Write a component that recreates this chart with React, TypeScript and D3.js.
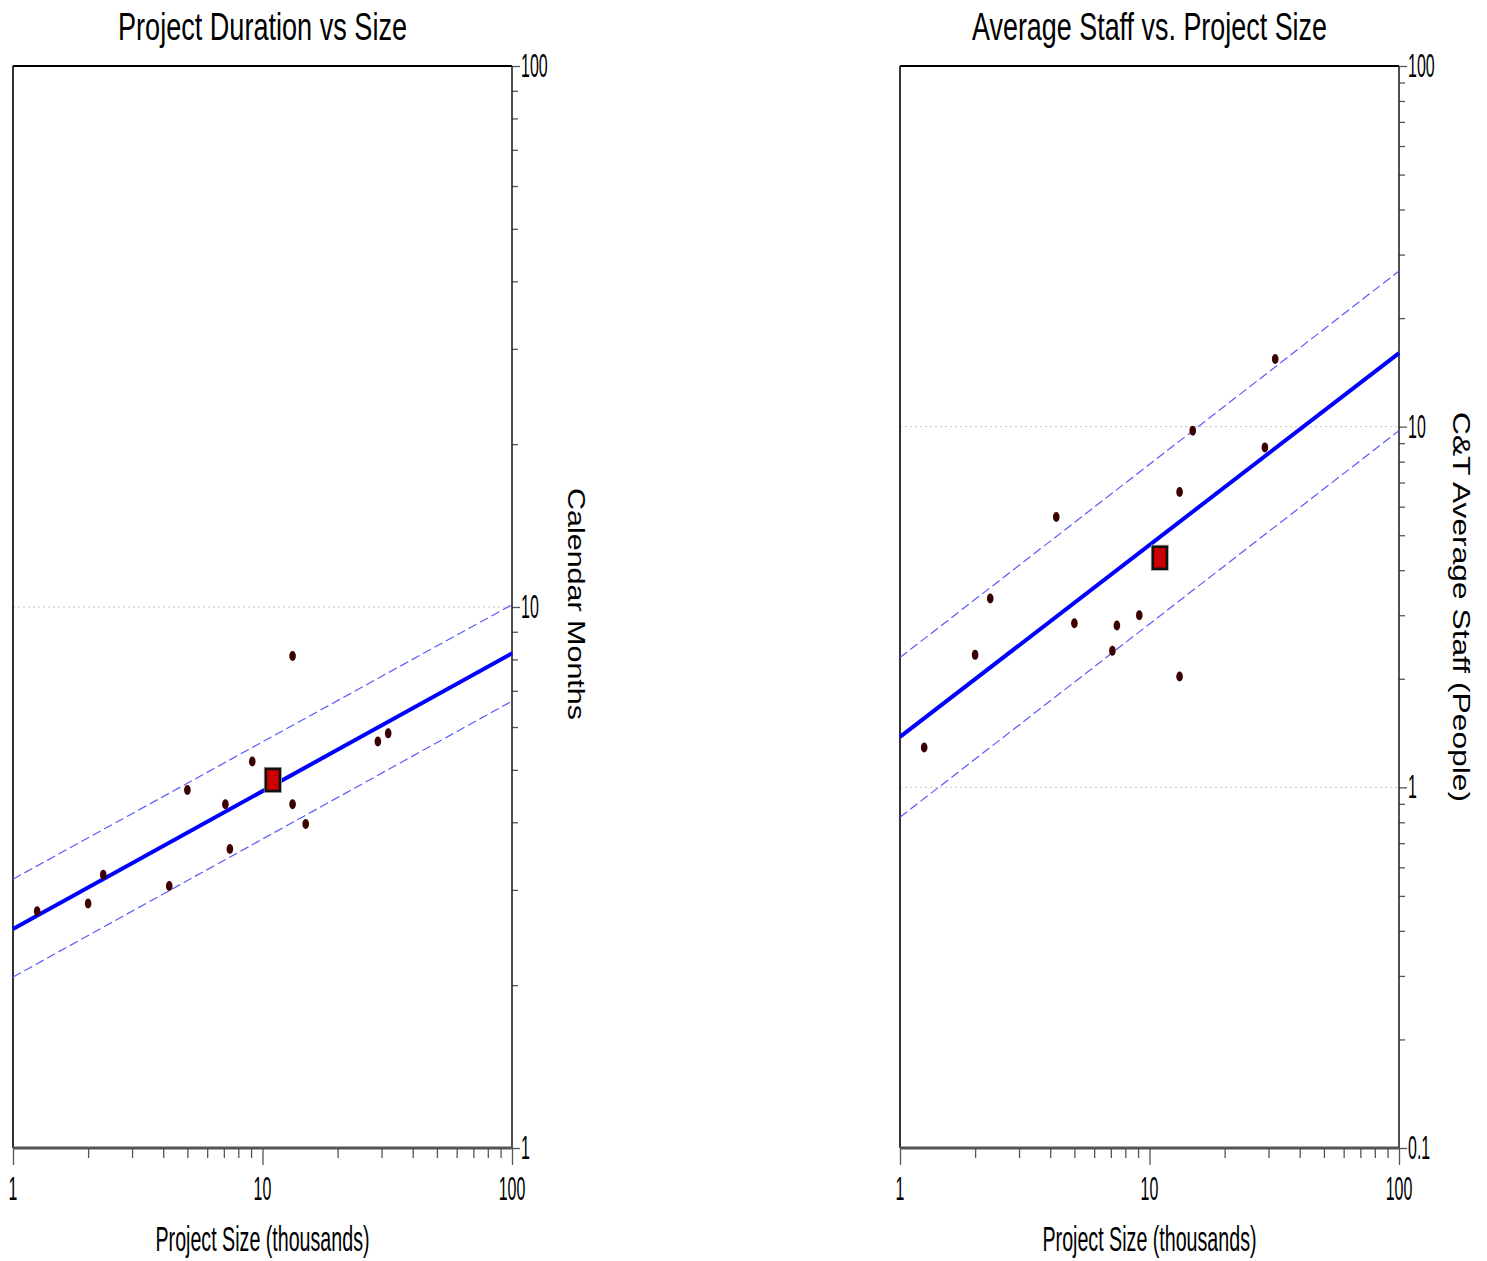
import React, { useEffect, useRef } from "react";
import * as d3 from "d3";

// project sizes (thousands) shared by both panels
const projectSize = [1.25, 2.0, 2.3, 4.23, 5.0, 7.1, 7.4, 9.1, 13.2, 13.2, 14.9, 29.0, 31.9];
const durationMonths = [2.74, 2.83, 3.2, 3.05, 4.59, 4.32, 3.57, 5.18, 8.12, 4.32, 3.97, 5.64, 5.84];
const averageStaff = [1.29, 2.33, 3.34, 5.62, 2.85, 2.39, 2.81, 3.0, 6.59, 2.03, 9.75, 8.76, 15.4];

// the highlighted (current) project
const currentSize = 11.0;
const currentDuration = 4.79;
const currentStaff = 4.33;

// trend line + bounds, read at size 1 and size 100
const fitSizes = [1, 100];
const durationFit = [2.54, 8.21];
const durationUpper = [3.14, 10.1];
const durationLower = [2.07, 6.7];
const staffFit = [1.38, 16.0];
const staffUpper = [2.29, 27.0];
const staffLower = [0.826, 9.75];

const sizeTicks = [1, 10, 100];
const durationTicks = [1, 10, 100];
const staffTicks = [0.1, 1, 10, 100];
const durationGrid = [10];
const staffGrid = [1, 10];

const FONT = "'Liberation Sans', Arial, sans-serif";
const TOP = 66;
const BOTTOM = 1148;

function isMajor(v, majors) {
  return majors.some((m) => Math.abs(m - v) / m < 1e-6);
}

function drawPanel(svg, p) {
  const g = svg.append("g");
  const x = d3.scaleLog().domain([1, 100]).range([p.x0, p.x1]);
  const y = d3.scaleLog().domain(p.yDomain).range([BOTTOM, TOP]);

  // dotted horizontal grid
  g.selectAll("line.grid")
    .data(p.grid)
    .join("line")
    .attr("x1", p.x0)
    .attr("x2", p.x1)
    .attr("y1", (d) => y(d))
    .attr("y2", (d) => y(d))
    .attr("stroke", "#c4c4c4")
    .attr("stroke-width", 1)
    .attr("stroke-dasharray", "2,3");

  // x axis ticks (minor then major)
  const xMinor = x.ticks().filter((v) => !isMajor(v, sizeTicks));
  const styleAxis = (s) => {
    s.select(".domain").remove();
    s.selectAll("line").attr("stroke", "#555").attr("stroke-width", 1.3);
  };
  g.append("g")
    .attr("transform", `translate(0,${BOTTOM})`)
    .call(d3.axisBottom(x).tickValues(xMinor).tickSize(10).tickFormat(() => ""))
    .call(styleAxis);
  g.append("g")
    .attr("transform", `translate(0,${BOTTOM})`)
    .call(d3.axisBottom(x).tickValues(sizeTicks).tickSize(17).tickFormat(() => ""))
    .call(styleAxis);

  // right y axis ticks
  const yMinor = y.ticks().filter((v) => !isMajor(v, p.yTicks));
  g.append("g")
    .attr("transform", `translate(${p.x1},0)`)
    .call(d3.axisRight(y).tickValues(yMinor).tickSize(6).tickFormat(() => ""))
    .call(styleAxis);
  g.append("g")
    .attr("transform", `translate(${p.x1},0)`)
    .call(d3.axisRight(y).tickValues(p.yTicks).tickSize(8).tickFormat(() => ""))
    .call(styleAxis);

  // frame
  g.append("line").attr("x1", p.x0).attr("x2", p.x1).attr("y1", TOP).attr("y2", TOP)
    .attr("stroke", "#000").attr("stroke-width", 2);
  g.append("line").attr("x1", p.x0).attr("x2", p.x0).attr("y1", TOP).attr("y2", BOTTOM)
    .attr("stroke", "#000").attr("stroke-width", 1.6);
  g.append("line").attr("x1", p.x1).attr("x2", p.x1).attr("y1", TOP).attr("y2", BOTTOM)
    .attr("stroke", "#222").attr("stroke-width", 1.6);
  g.append("line").attr("x1", p.x0).attr("x2", p.x1).attr("y1", BOTTOM).attr("y2", BOTTOM)
    .attr("stroke", "#555").attr("stroke-width", 3);

  // trend lines
  const line = d3.line().x((d) => x(d[0])).y((d) => y(d[1]));
  const pairs = (vals) => fitSizes.map((s, i) => [s, vals[i]]);
  [p.upper, p.lower].forEach((vals) => {
    g.append("path")
      .datum(pairs(vals))
      .attr("fill", "none")
      .attr("stroke", "#5a5aff")
      .attr("stroke-width", 1.2)
      .attr("stroke-dasharray", "9,4")
      .attr("d", line);
  });
  g.append("path")
    .datum(pairs(p.fit))
    .attr("fill", "none")
    .attr("stroke", "#0000ff")
    .attr("stroke-width", 4)
    .attr("d", line);

  // data points
  g.selectAll("ellipse")
    .data(projectSize.map((s, i) => [s, p.values[i]]))
    .join("ellipse")
    .attr("cx", (d) => x(d[0]))
    .attr("cy", (d) => y(d[1]))
    .attr("rx", 3.3)
    .attr("ry", 5)
    .attr("fill", "#3b0000");

  // current project marker
  const cx = x(currentSize);
  const cy = y(p.current);
  g.append("rect")
    .attr("x", cx - 8.5).attr("y", cy - 12.5).attr("width", 17).attr("height", 25)
    .attr("fill", "none").attr("stroke", "#aaa").attr("stroke-width", 1);
  g.append("rect")
    .attr("x", cx - 7).attr("y", cy - 11).attr("width", 14).attr("height", 22)
    .attr("fill", "#cc0000").attr("stroke", "#111").attr("stroke-width", 2.5);

  // title
  g.append("text")
    .attr("x", (p.x0 + p.x1) / 2)
    .attr("y", 39.5)
    .attr("text-anchor", "middle")
    .attr("font-family", FONT)
    .attr("font-size", 38)
    .attr("textLength", p.titleLen)
    .attr("lengthAdjust", "spacingAndGlyphs")
    .attr("fill", "#000")
    .text(p.title);

  // x tick labels
  g.selectAll("text.xt")
    .data(sizeTicks)
    .join("text")
    .attr("class", "xt")
    .attr("transform", (d) => `translate(${x(d)},1200) scale(0.47,1)`)
    .attr("text-anchor", "middle")
    .attr("font-family", FONT)
    .attr("font-size", 34)
    .attr("fill", "#000")
    .text((d) => String(d));

  // y tick labels
  g.selectAll("text.yt")
    .data(p.yTicks)
    .join("text")
    .attr("class", "yt")
    .attr("transform", (d) => `translate(${p.x1 + 9},${y(d) + 11}) scale(0.47,1)`)
    .attr("text-anchor", "start")
    .attr("font-family", FONT)
    .attr("font-size", 34)
    .attr("fill", "#000")
    .text((d) => String(d));

  // x axis title
  g.append("text")
    .attr("x", (p.x0 + p.x1) / 2)
    .attr("y", 1251)
    .attr("text-anchor", "middle")
    .attr("font-family", FONT)
    .attr("font-size", 35)
    .attr("textLength", 214)
    .attr("lengthAdjust", "spacingAndGlyphs")
    .attr("fill", "#000")
    .text("Project Size (thousands)");

  // y axis title (rotated, reads downward)
  g.append("text")
    .attr("transform", `translate(${p.yLabelX},${p.yLabelY}) rotate(90)`)
    .attr("text-anchor", "middle")
    .attr("font-family", FONT)
    .attr("font-size", 24)
    .attr("textLength", p.yLabelLen)
    .attr("lengthAdjust", "spacingAndGlyphs")
    .attr("fill", "#000")
    .text(p.yLabel);
}

export default function App() {
  const svgRef = useRef(null);

  useEffect(() => {
    if (!svgRef.current) return;
    const svg = d3.select(svgRef.current);
    svg.selectAll("*").remove();

    drawPanel(svg, {
      x0: 13,
      x1: 512,
      yDomain: [1, 100],
      yTicks: durationTicks,
      grid: durationGrid,
      values: durationMonths,
      current: currentDuration,
      fit: durationFit,
      upper: durationUpper,
      lower: durationLower,
      title: "Project Duration vs Size",
      titleLen: 289,
      yLabel: "Calendar Months",
      yLabelLen: 232,
      yLabelX: 568,
      yLabelY: 604,
    });

    drawPanel(svg, {
      x0: 900,
      x1: 1399,
      yDomain: [0.1, 100],
      yTicks: staffTicks,
      grid: staffGrid,
      values: averageStaff,
      current: currentStaff,
      fit: staffFit,
      upper: staffUpper,
      lower: staffLower,
      title: "Average Staff vs. Project Size",
      titleLen: 355,
      yLabel: "C&T Average Staff (People)",
      yLabelLen: 390,
      yLabelX: 1453,
      yLabelY: 607,
    });
  }, []);

  return (
    <svg
      ref={svgRef}
      width={1487}
      height={1261}
      style={{ position: "absolute", left: 0, top: 0, background: "#fff" }}
    />
  );
}
